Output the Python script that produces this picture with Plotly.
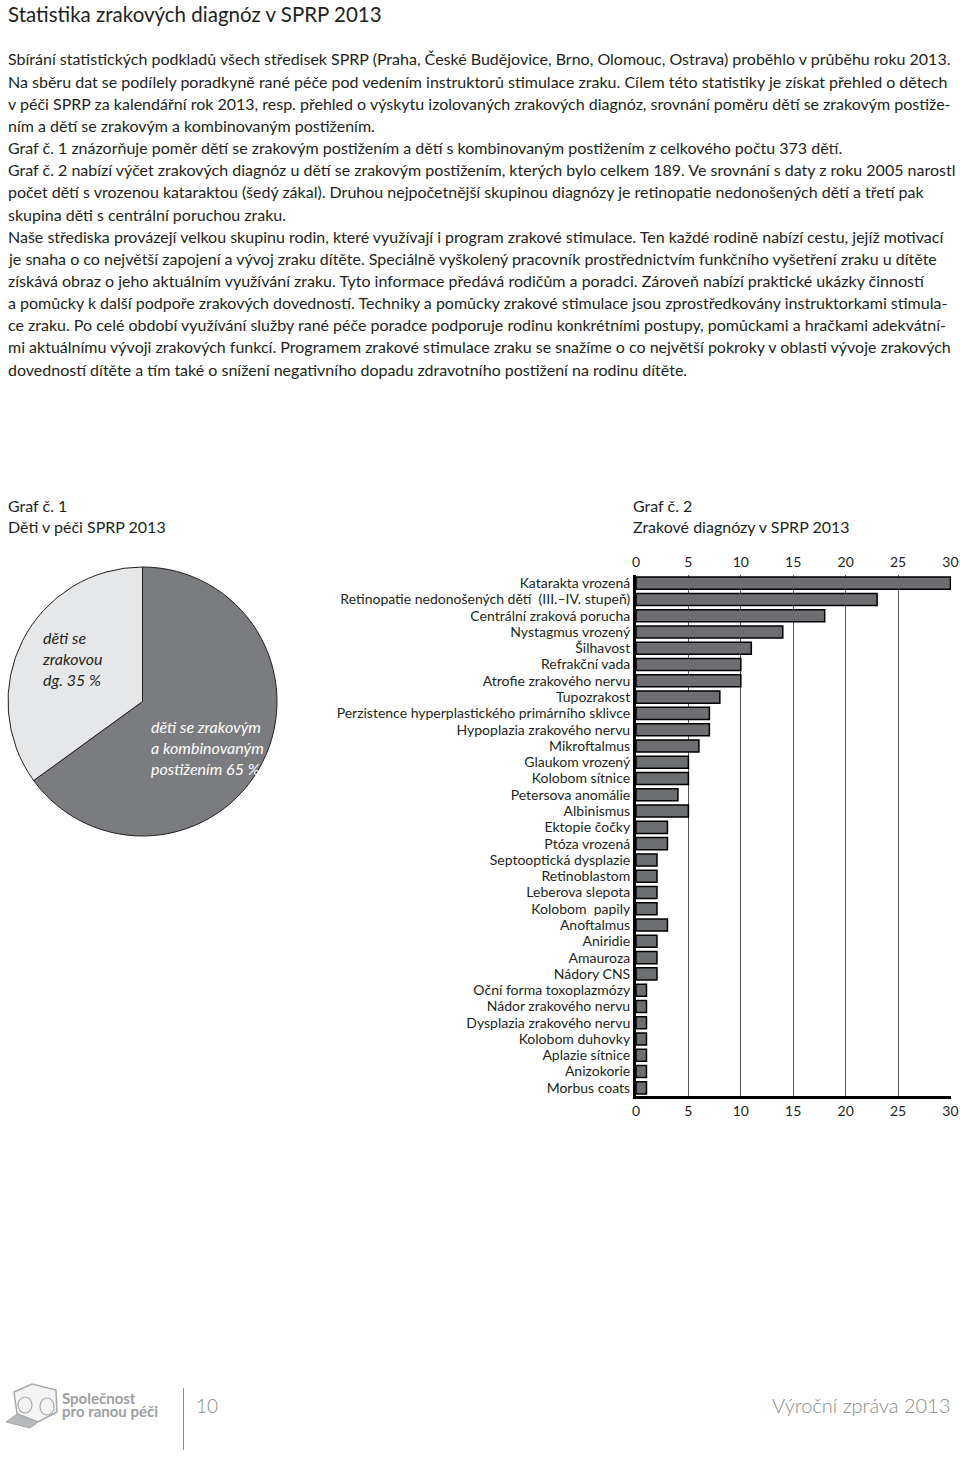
import plotly.graph_objects as go

# ---- data ----
pie_labels = ["děti se zrakovým a kombinovaným postižením", "děti se zrakovou dg."]
pie_values = [65, 35]

diagnozy = [
    "Katarakta vrozená", "Retinopatie nedonošených dětí  (III.–IV. stupeň)", "Centrální zraková porucha",
    "Nystagmus vrozený", "Šilhavost", "Refrakční vada", "Atrofie zrakového nervu", "Tupozrakost",
    "Perzistence hyperplastického primárního sklivce", "Hypoplazia zrakového nervu", "Mikroftalmus",
    "Glaukom vrozený", "Kolobom sítnice", "Petersova anomálie", "Albinismus", "Ektopie čočky",
    "Ptóza vrozená", "Septooptická dysplazie", "Retinoblastom", "Leberova slepota", "Kolobom  papily",
    "Anoftalmus", "Aniridie", "Amauroza", "Nádory CNS", "Oční forma toxoplazmózy",
    "Nádor zrakového nervu", "Dysplazia zrakového nervu", "Kolobom duhovky", "Aplazie sítnice",
    "Anizokorie", "Morbus coats",
]
pocty = [30, 23, 18, 14, 11, 10, 10, 8, 7, 7, 6, 5, 5, 4, 5, 3, 3, 2, 2, 2, 2, 3, 2, 2, 2,
         1, 1, 1, 1, 1, 1, 1]
x_ticks = [0, 5, 10, 15, 20, 25, 30]

title = "Statistika zrakových diagnóz v SPRP 2013"
body_lines = [
    "Sbírání statistických podkladů všech středisek SPRP (Praha, České Budějovice, Brno, Olomouc, Ostrava) proběhlo v průběhu roku 2013.",
    "Na sběru dat se podílely poradkyně rané péče pod vedením instruktorů stimulace zraku. Cílem této statistiky je získat přehled o dětech",
    "v péči SPRP za kalendářní rok 2013, resp. přehled o výskytu izolovaných zrakových diagnóz, srovnání poměru dětí se zrakovým postiže-",
    "ním a dětí se zrakovým a kombinovaným postižením.",
    "Graf č. 1 znázorňuje poměr dětí se zrakovým postižením a dětí s kombinovaným postižením z celkového počtu 373 dětí.",
    "Graf č. 2 nabízí výčet zrakových diagnóz u dětí se zrakovým postižením, kterých bylo celkem 189. Ve srovnání s daty z roku 2005 narostl",
    "počet dětí s vrozenou kataraktou (šedý zákal). Druhou nejpočetnější skupinou diagnózy je retinopatie nedonošených dětí a třetí pak",
    "skupina děti s centrální poruchou zraku.",
    "Naše střediska provázejí velkou skupinu rodin, které využívají i program zrakové stimulace. Ten každé rodině nabízí cestu, jejíž motivací",
    "je snaha o co největší zapojení a vývoj zraku dítěte. Speciálně vyškolený pracovník prostřednictvím funkčního vyšetření zraku u dítěte",
    "získává obraz o jeho aktuálním využívání zraku. Tyto informace předává rodičům a poradci. Zároveň nabízí praktické ukázky činností",
    "a pomůcky k další podpoře zrakových dovedností. Techniky a pomůcky zrakové stimulace jsou zprostředkovány instruktorkami stimula-",
    "ce zraku. Po celé období využívání služby rané péče poradce podporuje rodinu konkrétními postupy, pomůckami a hračkami adekvátní-",
    "mi aktuálnímu vývoji zrakových funkcí. Programem zrakové stimulace zraku se snažíme o co největší pokroky v oblasti vývoje zrakových",
    "dovedností dítěte a tím také o snížení negativního dopadu zdravotního postižení na rodinu dítěte.",
]

W, H = 960, 1472
FONT = "Lato, Open Sans, sans-serif"
NARROW = "Liberation Sans Narrow, Lato, sans-serif"


def px(x):
    return x / W


def py(y):
    return 1 - y / H


fig = go.Figure()

# Graf č. 1 - pie
fig.add_trace(go.Pie(
    labels=pie_labels, values=pie_values,
    sort=False, direction="clockwise", rotation=0,
    marker=dict(colors=["#7b7c7f", "#e6e7e8"], line=dict(color="#231f20", width=1)),
    textinfo="none", hoverinfo="label+percent", showlegend=False,
    domain=dict(x=[px(8), px(277)], y=[py(836), py(567)]),
))

# Graf č. 2 - bars
fig.add_trace(go.Bar(
    y=diagnozy, x=pocty, orientation="h",
    marker=dict(color="#6d6e71", line=dict(color="#000000", width=1.5)),
    width=0.74, showlegend=False, xaxis="x", yaxis="y",
))
# invisible copy so the top axis gets its labels
fig.add_trace(go.Bar(
    y=diagnozy, x=pocty, orientation="h", opacity=0, hoverinfo="skip",
    showlegend=False, xaxis="x2", yaxis="y",
))

fig.update_layout(
    width=W, height=H, margin=dict(l=0, r=0, t=0, b=0),
    paper_bgcolor="white", plot_bgcolor="white",
    font=dict(family=FONT, color="#231f20"),
    barmode="overlay",
    xaxis=dict(domain=[px(636), px(951)], range=[0, 30.05], tickvals=x_ticks,
               showgrid=True, gridcolor="#555555", gridwidth=1, zeroline=False,
               showline=True, linecolor="#000000", linewidth=3,
               tickfont=dict(size=14, family=FONT), ticks="", anchor="y", fixedrange=True,
               ticklabelstandoff=0, ticklabeloverflow="allow", automargin=False),
    xaxis2=dict(domain=[px(636), px(951)], range=[0, 30.05], tickvals=x_ticks,
                overlaying="x", side="top", showgrid=False, zeroline=False, showline=False,
                tickfont=dict(size=14, family=FONT), anchor="y", ticklabelstandoff=4,
                ticklabeloverflow="allow", automargin=False),
    yaxis=dict(domain=[py(1096), py(575)], autorange="reversed", type="category",
               tickmode="array", tickvals=diagnozy, ticktext=diagnozy,
               showline=True, linecolor="#000000", linewidth=3, showgrid=False,
               tickfont=dict(size=14, family=FONT), ticks="", ticklabelstandoff=0,
               fixedrange=True, automargin=False),
    bargap=0.25,
)

ann = []


def note(text, x, y, size=16, color="#231f20", xanchor="left", align="left", family=FONT, weight=None):
    f = dict(size=size, family=family, color=color)
    if weight:
        f["weight"] = weight
    ann.append(dict(text=text, x=px(x), y=py(y), xref="paper", yref="paper",
                    xanchor=xanchor, yanchor="middle", align=align,
                    font=f, showarrow=False))


note(title, 6, 14, size=20.5)
for i, line in enumerate(body_lines):
    note(line, 6, 59 + i * 22.15)

for txt, x, y in [("Graf č. 1", 6, 505), ("Děti v péči SPRP 2013", 6, 526),
                  ("Graf č. 2", 631, 505), ("Zrakové diagnózy v SPRP 2013", 631, 526)]:
    note(txt, x, y)

# pie labels
note("<i>děti se<br>zrakovou<br>dg. 35 %</i>", 40, 658)
note("<i>děti se zrakovým<br>a kombinovaným<br>postižením 65 %</i>", 149, 747, color="#ffffff")

# footer
note("<b>Společnost</b>", 60, 1398, size=15, color="#9d9ea0", family=NARROW)
note("<b>pro ranou péči</b>", 60, 1411, size=15, color="#9d9ea0", family=NARROW)
note("10", 194, 1405, size=19, color="#8a8b8d", weight=300)
note("Výroční zpráva 2013", 952, 1405, size=20, color="#8a8b8d", xanchor="right", weight=300)

fig.update_layout(annotations=ann)

shapes = [
    dict(type="line", xref="paper", yref="paper", x0=px(183.5), x1=px(183.5), y0=py(1388), y1=py(1450),
         line=dict(color="#8a8b8d", width=1)),
    # simple cube logo
    dict(type="path", xref="paper", yref="paper",
         path=f"M {px(14)},{py(1392)} L {px(32)},{py(1384)} L {px(56)},{py(1390)} L {px(57)},{py(1412)} "
              f"L {px(38)},{py(1422)} L {px(17)},{py(1414)} Z",
         line=dict(color="#a7a8aa", width=1.5), fillcolor="#f4f4f4"),
    dict(type="path", xref="paper", yref="paper",
         path=f"M {px(17)},{py(1414)} L {px(6)},{py(1422)} L {px(30)},{py(1428)} L {px(38)},{py(1422)} Z",
         line=dict(color="#a7a8aa", width=1), fillcolor="#b8b9bb"),
    dict(type="circle", xref="paper", yref="paper", x0=px(18), x1=px(32), y0=py(1413), y1=py(1397),
         line=dict(color="#a7a8aa", width=1.2)),
    dict(type="circle", xref="paper", yref="paper", x0=px(40), x1=px(54), y0=py(1415), y1=py(1398),
         line=dict(color="#a7a8aa", width=1.2)),
]
fig.update_layout(shapes=shapes)

# drop the browser's default body margin so the page fills the window exactly
fig.write_html("out.html", config={"displayModeBar": False},
               post_script="document.body.style.margin='0';")
